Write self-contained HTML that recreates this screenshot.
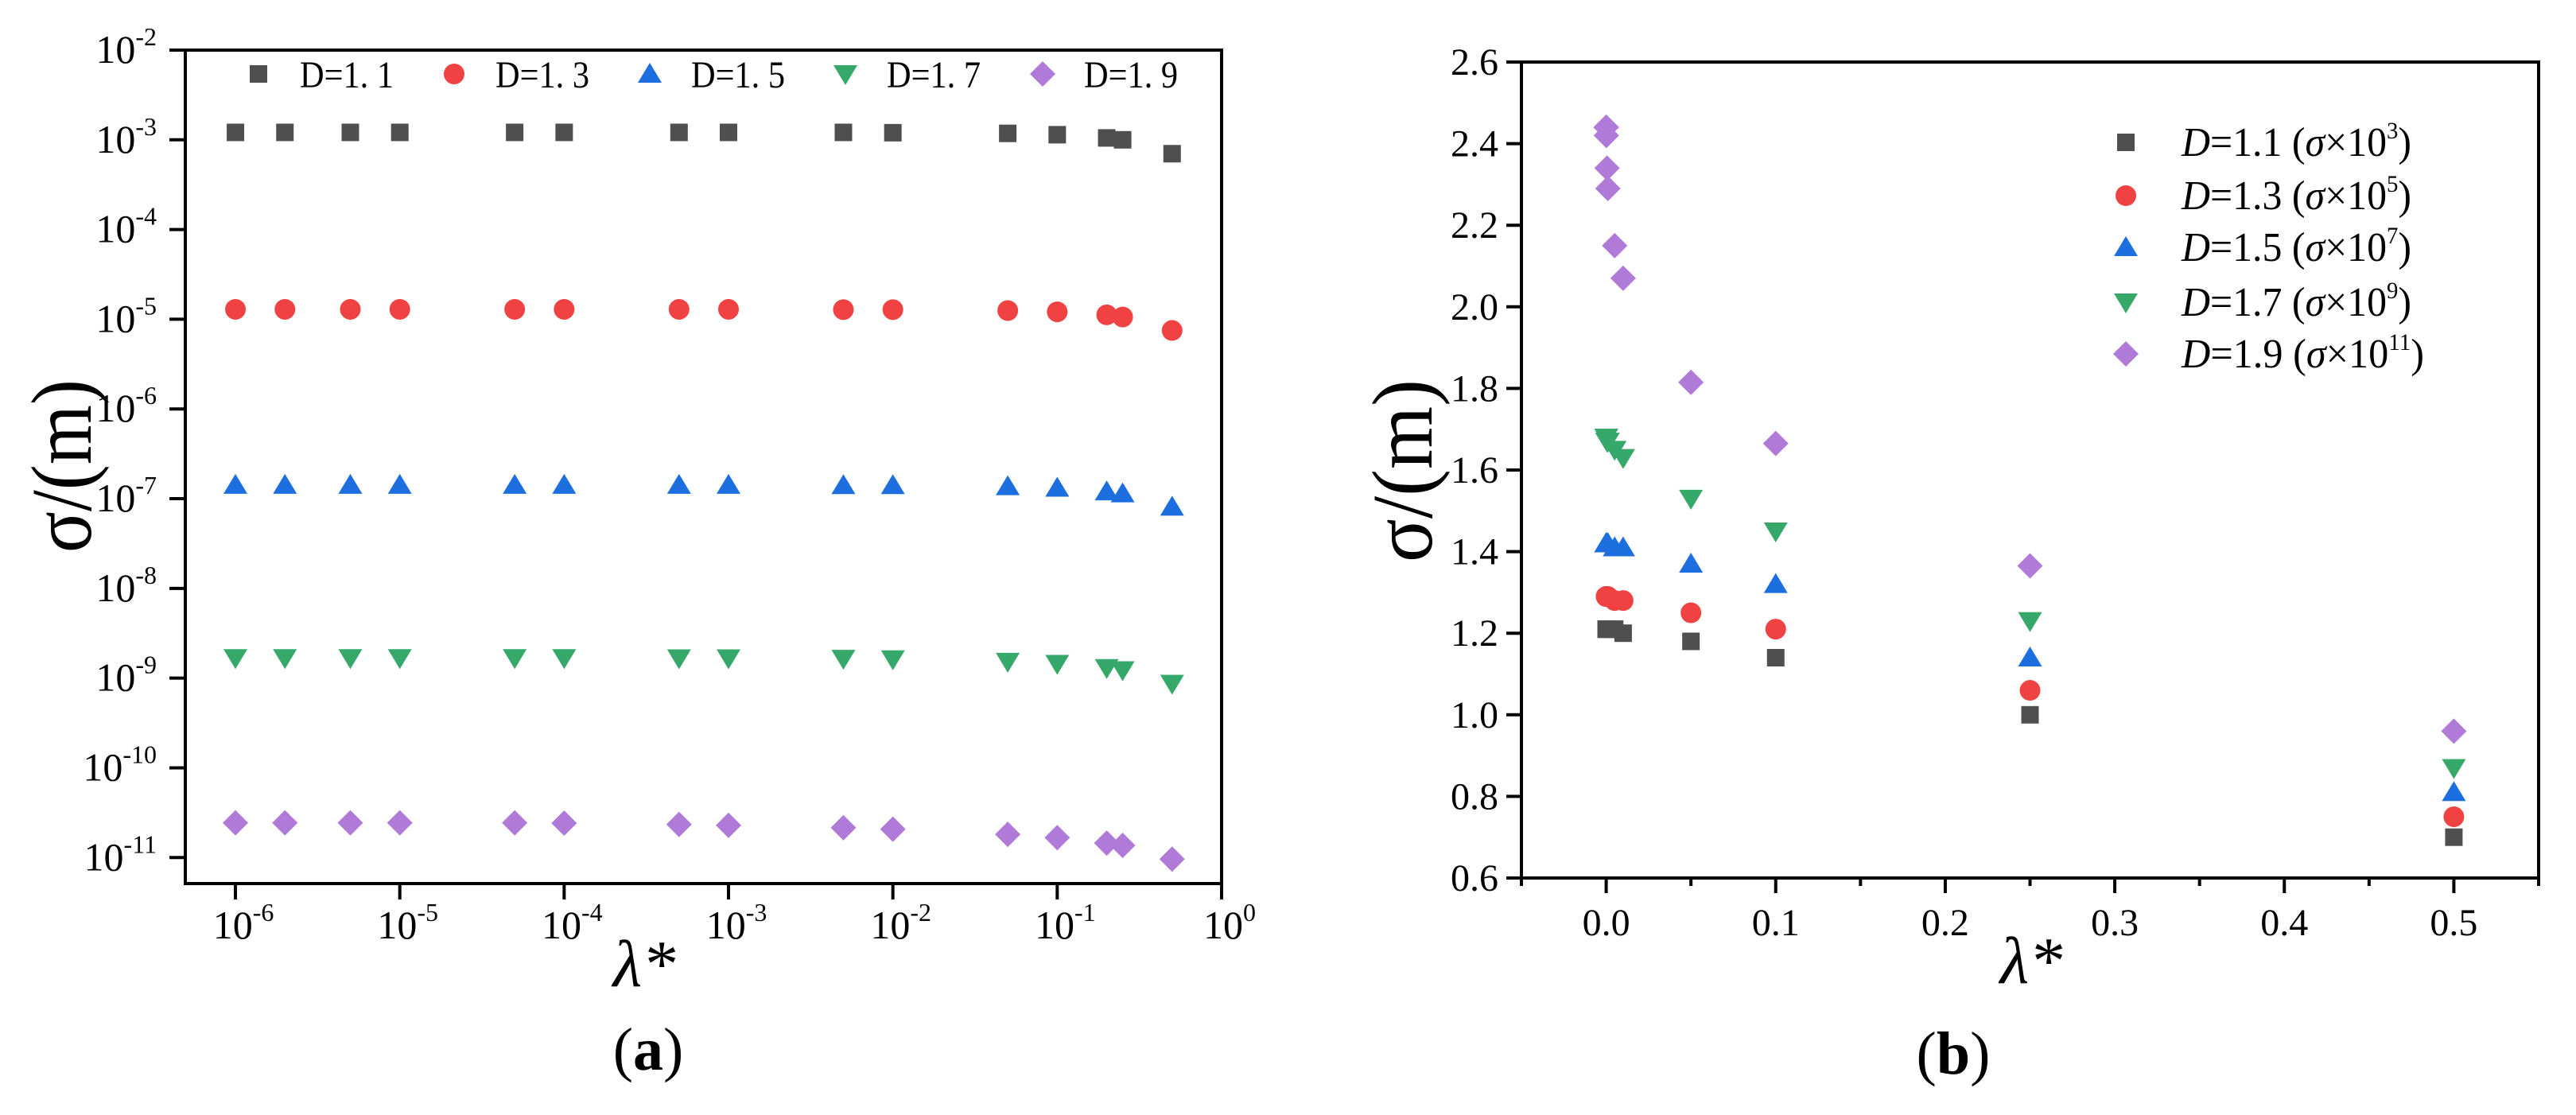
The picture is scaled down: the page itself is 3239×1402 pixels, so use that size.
<!DOCTYPE html>
<html><head><meta charset="utf-8"><style>
html,body{margin:0;padding:0;background:#fff;}
svg{display:block;}
text{font-family:"Liberation Serif","Noto Serif CJK SC",serif;fill:#000;}
</style></head><body>
<svg id="fig" width="3239" height="1402" viewBox="0 0 3239 1402" xmlns="http://www.w3.org/2000/svg"></svg>
<script>
// ---- data ----
const lambdaAll = [1e-6,2e-6,5e-6,1e-5,5e-5,1e-4,5e-4,1e-3,5e-3,1e-2,5e-2,0.1,0.2,0.25,0.5];
const seriesNames = ["D=1.1","D=1.3","D=1.5","D=1.7","D=1.9"];
const seriesExp = [3,5,7,9,11];
const d11 = [1.21,1.21,1.21,1.21,1.21,1.21,1.21,1.21,1.21,1.20,1.18,1.14,1.05,1.00,0.70];
const d13 = [1.29,1.29,1.29,1.29,1.29,1.29,1.29,1.29,1.28,1.28,1.25,1.21,1.12,1.06,0.75];
const d15 = [1.42,1.42,1.42,1.42,1.42,1.42,1.42,1.42,1.41,1.41,1.37,1.32,1.20,1.14,0.81];
const d17 = [1.68,1.68,1.68,1.68,1.68,1.68,1.67,1.67,1.65,1.63,1.53,1.45,1.30,1.23,0.87];
const d19 = [2.44,2.44,2.44,2.44,2.44,2.42,2.34,2.29,2.15,2.07,1.815,1.665,1.45,1.365,0.96];
const rightSkip = [0.2]; // λ values not shown in panel (b)
const leftYTicks = [-2,-3,-4,-5,-6,-7,-8,-9,-10,-11];
const leftXTicks = [-6,-5,-4,-3,-2,-1,0];
const rightYTicks = [0.6,0.8,1.0,1.2,1.4,1.6,1.8,2.0,2.2,2.4,2.6];
const rightXTicks = [0.0,0.1,0.2,0.3,0.4,0.5];
const rightXMinor = [-0.05,0.05,0.15,0.25,0.35,0.45,0.55];

const allSeries = [d11,d13,d15,d17,d19];
const colors = ["#4f4f4f","#f04242","#1d6fe0","#35a86a","#b07ad9"];
const shapes = ["square","circle","up","down","diamond"];
const NS = "http://www.w3.org/2000/svg";
const svg = document.getElementById('fig');
function el(tag, attrs, parent){const e=document.createElementNS(NS,tag);for(const k in attrs)e.setAttribute(k,attrs[k]);(parent||svg).appendChild(e);return e;}

function marker(shape,cx,cy,color,parent){
  let e;
  if(shape==="square") e=el('rect',{x:cx-11,y:cy-11,width:22,height:22,fill:color},parent);
  else if(shape==="circle") e=el('circle',{cx:cx,cy:cy,r:13,fill:color},parent);
  else if(shape==="up") e=el('polygon',{points:`${cx},${cy-14} ${cx+15},${cy+11} ${cx-15},${cy+11}`,fill:color},parent);
  else if(shape==="down") e=el('polygon',{points:`${cx},${cy+14} ${cx+15},${cy-11} ${cx-15},${cy-11}`,fill:color},parent);
  else e=el('polygon',{points:`${cx},${cy-16} ${cx+16},${cy} ${cx},${cy+16} ${cx-16},${cy}`,fill:color},parent);
  return e;
}

// ---- panel (a) ----
const A={l:233,r:1536,t:63,b:1111};
const axL=v=>A.l+(Math.log10(v)-(-6.305))/(0-(-6.305))*(A.r-A.l);
const ayL=v=>A.t+((-2)-Math.log10(v))/((-2)-(-11.29))*(A.b-A.t);
const gA=el('g',{});  
const frA=el('rect',{x:A.l,y:A.t,width:A.r-A.l,height:A.b-A.t,fill:'none',stroke:'#000','stroke-width':4},gA);
 
leftYTicks.forEach(p=>{
  const y=ayL(Math.pow(10,p));
  el('line',{x1:A.l-20,x2:A.l,y1:y,y2:y,stroke:'#000','stroke-width':4},gA);
  const t=el('text',{x:A.l-36,y:y+16,'text-anchor':'end','font-size':50},gA);
   
  t.innerHTML=`10<tspan dy="-22" font-size="32">${p}</tspan>`;
});
leftXTicks.forEach(p=>{
  const x=axL(Math.pow(10,p));
  el('line',{x1:x,x2:x,y1:A.b,y2:A.b+20,stroke:'#000','stroke-width':4},gA);
  const t=el('text',{x:x+10,y:1180,'text-anchor':'middle','font-size':50},gA);
   
  t.innerHTML=`10<tspan dy="-22" font-size="32">${p}</tspan>`;
});
allSeries.forEach((s,i)=>{
  const g=el('g',{},gA);
  
  
  s.forEach((v,j)=>{
    const m=marker(shapes[i],axL(lambdaAll[j]),ayL(v*Math.pow(10,-seriesExp[i])),colors[i],g);
     
  });
});
const legAx=[325,571,817,1063,1311];
seriesNames.forEach((n,i)=>{
  const g=el('g',{},gA);
   
  marker(shapes[i],legAx[i],93,colors[i],g);
  const t=el('text',{x:legAx[i]+52,y:110,'font-size':48,textLength:118,lengthAdjust:'spacingAndGlyphs'},g);
  t.textContent=n.replace('.','. ');
});
let t=el('text',{x:0,y:0,'font-size':108,'text-anchor':'middle',textLength:218,lengthAdjust:'spacingAndGlyphs',transform:'translate(114,586) rotate(-90)'},gA);
 
t.textContent='σ/(m)';
t=el('text',{x:810,y:1240,'font-size':84,'font-style':'italic','text-anchor':'middle'},gA);
 
t.textContent='λ*';
t=el('text',{x:815,y:1345,'font-size':76,'text-anchor':'middle'},gA);
 
t.innerHTML='(<tspan font-weight="bold">a</tspan>)';

// ---- panel (b) ----
const B={l:1913,r:3192,t:78,b:1104};
const bx=v=>B.l+(v-(-0.05))/(0.55-(-0.05))*(B.r-B.l);
const by=v=>B.t+(2.6-v)/(2.6-0.6)*(B.b-B.t);
const gB=el('g',{});  
const frB=el('rect',{x:B.l,y:B.t,width:B.r-B.l,height:B.b-B.t,fill:'none',stroke:'#000','stroke-width':4},gB);
 
rightYTicks.forEach(v=>{
  const y=by(v);
  el('line',{x1:B.l-19,x2:B.l,y1:y,y2:y,stroke:'#000','stroke-width':4},gB);
  const tt=el('text',{x:1884,y:y+16,'text-anchor':'end','font-size':48},gB);
   
  tt.textContent=v.toFixed(1);
});
rightXTicks.forEach(v=>{
  const x=bx(v);
  el('line',{x1:x,x2:x,y1:B.b,y2:B.b+19,stroke:'#000','stroke-width':4},gB);
  const tt=el('text',{x:x,y:1176,'text-anchor':'middle','font-size':48},gB);
   
  tt.textContent=v.toFixed(1);
});
rightXMinor.forEach(v=>{
  const x=bx(v);
  el('line',{x1:x,x2:x,y1:B.b,y2:B.b+10,stroke:'#000','stroke-width':4},gB);
});
allSeries.forEach((s,i)=>{
  const g=el('g',{},gB);
  
  
  s.forEach((v,j)=>{
    if(rightSkip.includes(lambdaAll[j])) return;
    const m=marker(shapes[i],bx(lambdaAll[j]),by(v),colors[i],g);
     
  });
});
const legBy=[179,246,311,380,445];
seriesNames.forEach((n,i)=>{
  const g=el('g',{},gB);
   
  marker(shapes[i],2673,legBy[i],colors[i],g);
  const tt=el('text',{x:2743,y:legBy[i]+17,'font-size':52,textLength:(i===4?305:289),lengthAdjust:'spacingAndGlyphs'},g);
  tt.innerHTML=`<tspan font-style="italic">D</tspan>=${n.slice(2)} (<tspan font-style="italic">σ</tspan>×10<tspan dy="-22" font-size="30">${seriesExp[i]}</tspan><tspan dy="22">)</tspan>`;
});
t=el('text',{x:0,y:0,'font-size':108,'text-anchor':'middle',textLength:230,lengthAdjust:'spacingAndGlyphs',transform:'translate(1800,592) rotate(-90)'},gB);
 
t.textContent='σ/(m)';
t=el('text',{x:2554,y:1236,'font-size':84,'font-style':'italic','text-anchor':'middle'},gB);
 
t.textContent='λ*';
t=el('text',{x:2456,y:1350,'font-size':76,'text-anchor':'middle'},gB);
 
t.innerHTML='(<tspan font-weight="bold">b</tspan>)';
</script>
</body></html>
